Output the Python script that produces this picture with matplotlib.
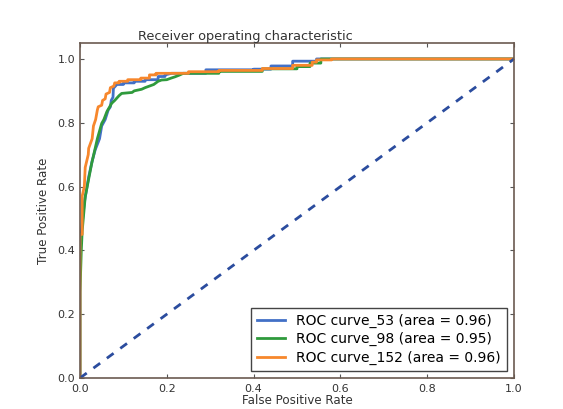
import numpy as np
import matplotlib
matplotlib.use("Agg")
import matplotlib.pyplot as plt

# ROC curves (false positive rate, true positive rate)
fpr_53 = [0.0, 0.0, 0.004, 0.01, 0.02, 0.028, 0.035, 0.045, 0.05, 0.058, 0.065, 0.07,
          0.072, 0.076, 0.077, 0.085, 0.1, 0.1, 0.125, 0.125, 0.15, 0.15, 0.18, 0.18,
          0.196, 0.196, 0.211, 0.29, 0.29, 0.40, 0.40, 0.44, 0.44, 0.49, 0.49, 0.545,
          0.545, 1.0]
tpr_53 = [0.0, 0.42, 0.47, 0.55, 0.63, 0.68, 0.715, 0.75, 0.79, 0.81, 0.84, 0.85,
          0.87, 0.88, 0.908, 0.92, 0.92, 0.925, 0.925, 0.93, 0.93, 0.935, 0.935, 0.945,
          0.945, 0.95, 0.955, 0.955, 0.966, 0.966, 0.968, 0.968, 0.978, 0.978, 0.993,
          0.993, 1.0, 1.0]

fpr_98 = [0.0, 0.0, 0.003, 0.005, 0.012, 0.018, 0.027, 0.035, 0.04, 0.05, 0.055, 0.062,
          0.073, 0.08, 0.09, 0.096, 0.12, 0.125, 0.142, 0.15, 0.16, 0.17, 0.18, 0.188,
          0.2, 0.21, 0.219, 0.23, 0.238, 0.32, 0.32, 0.42, 0.42, 0.5, 0.5, 0.53, 0.53,
          0.555, 0.555, 1.0]
tpr_98 = [0.0, 0.27, 0.4, 0.46, 0.568, 0.61, 0.673, 0.72, 0.75, 0.798, 0.81, 0.835,
          0.861, 0.87, 0.885, 0.892, 0.895, 0.9, 0.905, 0.91, 0.915, 0.92, 0.93, 0.934,
          0.935, 0.94, 0.944, 0.95, 0.955, 0.955, 0.961, 0.961, 0.969, 0.969, 0.976,
          0.976, 0.987, 0.987, 1.0, 1.0]

fpr_152 = [0.0, 0.0, 0.005, 0.005, 0.01, 0.012, 0.019, 0.02, 0.028, 0.031, 0.036, 0.04,
           0.042, 0.05, 0.052, 0.058, 0.06, 0.068, 0.07, 0.078, 0.08, 0.09, 0.09, 0.11,
           0.11, 0.14, 0.14, 0.16, 0.16, 0.175, 0.175, 0.25, 0.25, 0.32, 0.32, 0.42,
           0.42, 0.49, 0.49, 0.535, 0.535, 0.545, 0.545, 0.58, 0.58, 1.0]
tpr_152 = [0.0, 0.45, 0.45, 0.57, 0.6, 0.66, 0.7, 0.72, 0.75, 0.79, 0.81, 0.84,
           0.85, 0.855, 0.87, 0.875, 0.89, 0.895, 0.91, 0.915, 0.925, 0.925, 0.93, 0.93,
           0.935, 0.935, 0.94, 0.94, 0.95, 0.95, 0.955, 0.955, 0.96, 0.96, 0.964, 0.964,
           0.97, 0.97, 0.98, 0.98, 0.99, 0.99, 0.997, 0.997, 1.0, 1.0]

labels = ["ROC curve_53 (area = 0.96)",
          "ROC curve_98 (area = 0.95)",
          "ROC curve_152 (area = 0.96)"]
colors = ["#4270c6", "#2f9a3c", "#f7872c"]

plt.rcParams["xtick.direction"] = "in"
plt.rcParams["ytick.direction"] = "in"

fig = plt.figure(figsize=(5.63, 4.09), dpi=100)
ax = fig.add_axes([80 / 563, 1 - 378 / 409, 434 / 563, 335 / 409])

ax.plot(fpr_53, tpr_53, color=colors[0], lw=2, label=labels[0])
ax.plot(fpr_98, tpr_98, color=colors[1], lw=2, label=labels[1])
ax.plot(fpr_152, tpr_152, color=colors[2], lw=2, label=labels[2])
ax.plot([0, 1], [0, 1], color="#2b4c9e", lw=2, linestyle="--", dashes=(3, 3))

ax.set_xlim(0.0, 1.0)
ax.set_ylim(0.0, 1.05)
ax.set_xticks([0.0, 0.2, 0.4, 0.6, 0.8, 1.0])
ax.set_yticks([0.0, 0.2, 0.4, 0.6, 0.8, 1.0])
ax.tick_params(top=True, right=True, labelsize=8, length=3, colors="#555555",
               labelcolor="#333333")
ax.tick_params(axis="x", pad=4)
for s in ax.spines.values():
    s.set_color("#6b5a50")
    s.set_linewidth(1.2)

ax.set_xlabel("False Positive Rate", fontsize=8.6, labelpad=0, color="#333333")
ax.set_ylabel("True Positive Rate", fontsize=8.6, labelpad=5, color="#333333")
ax.set_title("Receiver operating characteristic", fontsize=9.3, x=0.382, pad=2,
             color="#333333")

leg = ax.legend(loc="lower right", fontsize=10, fancybox=False, framealpha=1,
                handlelength=2, borderpad=0.45, labelspacing=0.3,
                borderaxespad=0.5)
leg.get_frame().set_edgecolor("#444444")
leg.get_frame().set_linewidth(1.0)

fig.savefig("out.png", dpi=100)
